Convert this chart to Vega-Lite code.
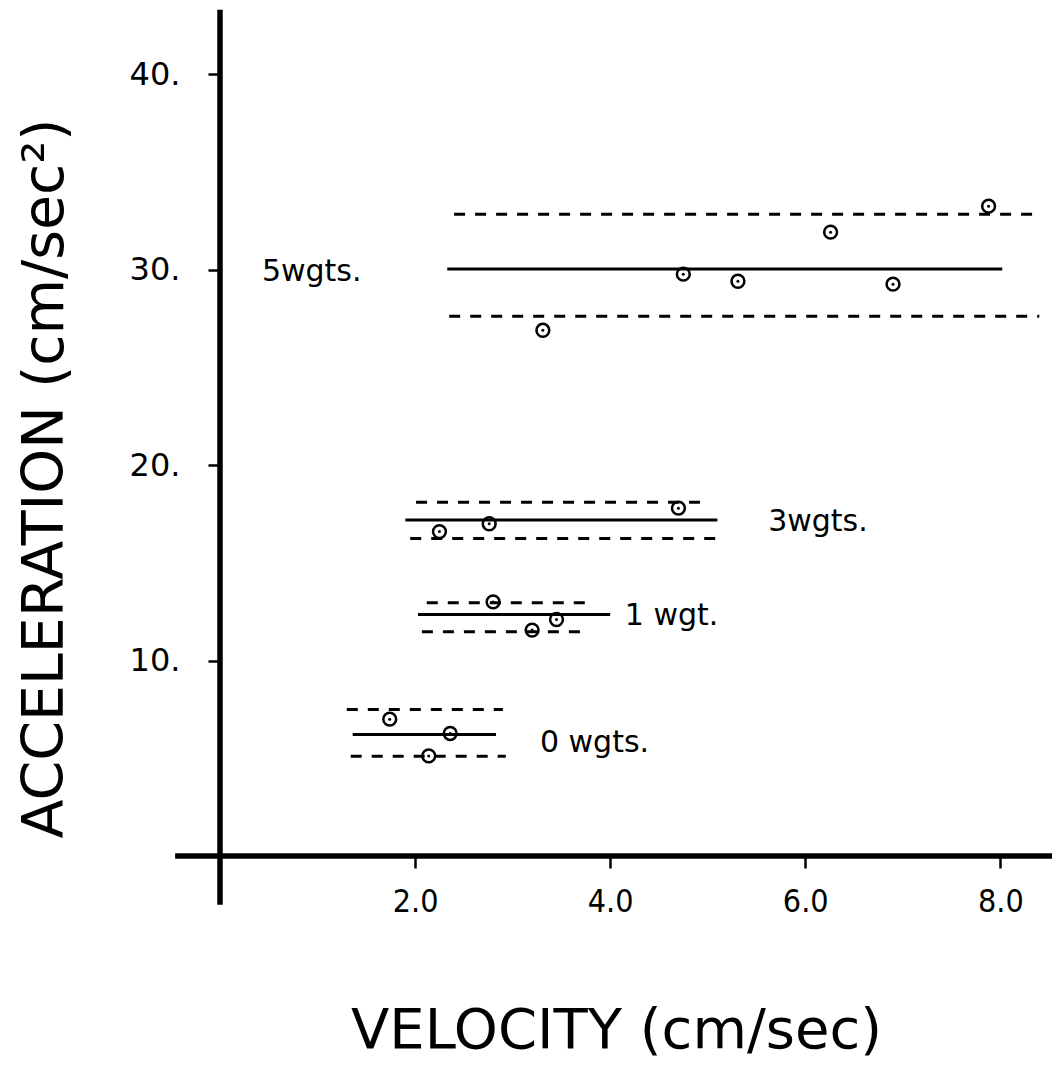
{
  "$schema": "https://vega.github.io/schema/vega-lite/v6.json",
  "autosize": {"type": "none"},
  "width": 832,
  "height": 856,
  "padding": {"left": 220, "top": 0, "right": 0, "bottom": 212},
  "background": "white",
  "config": {
    "view": {"stroke": null},
    "font": "DejaVu Sans",
    "axis": {"grid": false, "domain": false, "tickColor": "black", "labelColor": "black", "titleColor": "black", "titleFontWeight": "normal"}
  },
  "datasets": {
    "axes": [
      {"x": -0.46, "x2": 8.55, "y": 0, "y2": 0},
      {"x": 0, "x2": 0, "y": -2.5, "y2": 43.3}
    ],
    "lines": [
      {"group": "0 wgts", "kind": "bound", "x1": 1.30, "x2": 2.90, "y": 7.5},
      {"group": "0 wgts", "kind": "mean", "x1": 1.36, "x2": 2.83, "y": 6.22},
      {"group": "0 wgts", "kind": "bound", "x1": 1.34, "x2": 2.93, "y": 5.1},
      {"group": "1 wgt", "kind": "bound", "x1": 2.12, "x2": 3.83, "y": 12.96},
      {"group": "1 wgt", "kind": "mean", "x1": 2.03, "x2": 4.0, "y": 12.36},
      {"group": "1 wgt", "kind": "bound", "x1": 2.07, "x2": 3.79, "y": 11.47},
      {"group": "3 wgts", "kind": "bound", "x1": 2.01, "x2": 4.99, "y": 18.1},
      {"group": "3 wgts", "kind": "mean", "x1": 1.90, "x2": 5.10, "y": 17.19},
      {"group": "3 wgts", "kind": "bound", "x1": 1.95, "x2": 5.10, "y": 16.25},
      {"group": "5 wgts", "kind": "bound", "x1": 2.40, "x2": 8.38, "y": 32.84},
      {"group": "5 wgts", "kind": "mean", "x1": 2.33, "x2": 8.02, "y": 30.03},
      {"group": "5 wgts", "kind": "bound", "x1": 2.35, "x2": 8.40, "y": 27.62}
    ],
    "points": [
      {"group": "0 wgts", "velocity": 1.74, "acceleration": 7.0},
      {"group": "0 wgts", "velocity": 2.36, "acceleration": 6.27},
      {"group": "0 wgts", "velocity": 2.14, "acceleration": 5.12},
      {"group": "1 wgt", "velocity": 2.80, "acceleration": 13.0},
      {"group": "1 wgt", "velocity": 3.45, "acceleration": 12.1},
      {"group": "1 wgt", "velocity": 3.20, "acceleration": 11.56},
      {"group": "3 wgts", "velocity": 2.25, "acceleration": 16.6},
      {"group": "3 wgts", "velocity": 2.76, "acceleration": 17.0},
      {"group": "3 wgts", "velocity": 4.70, "acceleration": 17.8},
      {"group": "5 wgts", "velocity": 3.31, "acceleration": 26.9},
      {"group": "5 wgts", "velocity": 4.75, "acceleration": 29.77},
      {"group": "5 wgts", "velocity": 5.31, "acceleration": 29.41},
      {"group": "5 wgts", "velocity": 6.26, "acceleration": 31.92},
      {"group": "5 wgts", "velocity": 6.90, "acceleration": 29.26},
      {"group": "5 wgts", "velocity": 7.88, "acceleration": 33.25}
    ],
    "labels": [
      {"label": "5wgts.", "x": 0.43, "y": 29.9},
      {"label": "3wgts.", "x": 5.62, "y": 17.1},
      {"label": "1 wgt.", "x": 4.15, "y": 12.3},
      {"label": "0 wgts.", "x": 3.28, "y": 5.78}
    ]
  },
  "layer": [
    {
      "data": {"name": "axes"},
      "mark": {"type": "rule", "color": "black", "strokeWidth": 5.5},
      "encoding": {
        "x": {"field": "x", "type": "quantitative", "scale": {"domain": [0, 8.53], "nice": false, "zero": false},
          "axis": {"values": [2, 4, 6, 8], "format": ".1f", "tickSize": 12, "tickWidth": 2.5, "labelFontSize": 32, "labelFont": "DejaVu Sans Condensed", "labelPadding": 18,
            "title": "VELOCITY (cm/sec)", "titleFontSize": 56, "titleX": 396, "titleY": 174, "titleAlign": "center", "titleBaseline": "middle", "titleFont": "DejaVu Sans"}},
        "x2": {"field": "x2"},
        "y": {"field": "y", "type": "quantitative", "scale": {"domain": [0, 43.8], "nice": false, "zero": false},
          "axis": {"values": [10, 20, 30, 40], "labelExpr": "datum.value + '.'", "tickSize": 12, "tickWidth": 2.5, "labelFontSize": 32, "labelPadding": 28, "labelBaseline": "middle",
            "title": "ACCELERATION (cm/sec²)", "titleFontSize": 57, "titleX": -175, "titleY": 478, "titleAngle": 270, "titleAlign": "center", "titleBaseline": "middle", "titleFont": "DejaVu Sans"}},
        "y2": {"field": "y2"}
      }
    },
    {
      "data": {"name": "lines"},
      "mark": {"type": "rule", "color": "black", "strokeWidth": 3},
      "encoding": {
        "x": {"field": "x1", "type": "quantitative"},
        "x2": {"field": "x2"},
        "y": {"field": "y", "type": "quantitative"},
        "strokeDash": {"field": "kind", "type": "nominal", "scale": {"domain": ["mean", "bound"], "range": [[1, 0], [11, 10]]}, "legend": null}
      }
    },
    {
      "data": {"name": "points"},
      "mark": {"type": "point", "shape": "circle", "filled": false, "color": "black", "size": 165, "strokeWidth": 2.5, "opacity": 1},
      "encoding": {
        "x": {"field": "velocity", "type": "quantitative"},
        "y": {"field": "acceleration", "type": "quantitative"}
      }
    },
    {
      "data": {"name": "points"},
      "mark": {"type": "circle", "color": "black", "size": 9, "opacity": 1},
      "encoding": {
        "x": {"field": "velocity", "type": "quantitative"},
        "y": {"field": "acceleration", "type": "quantitative"}
      }
    },
    {
      "data": {"name": "labels"},
      "mark": {"type": "text", "align": "left", "baseline": "middle", "fontSize": 30, "color": "black", "font": "DejaVu Sans"},
      "encoding": {
        "x": {"field": "x", "type": "quantitative"},
        "y": {"field": "y", "type": "quantitative"},
        "text": {"field": "label"}
      }
    }
  ]
}
